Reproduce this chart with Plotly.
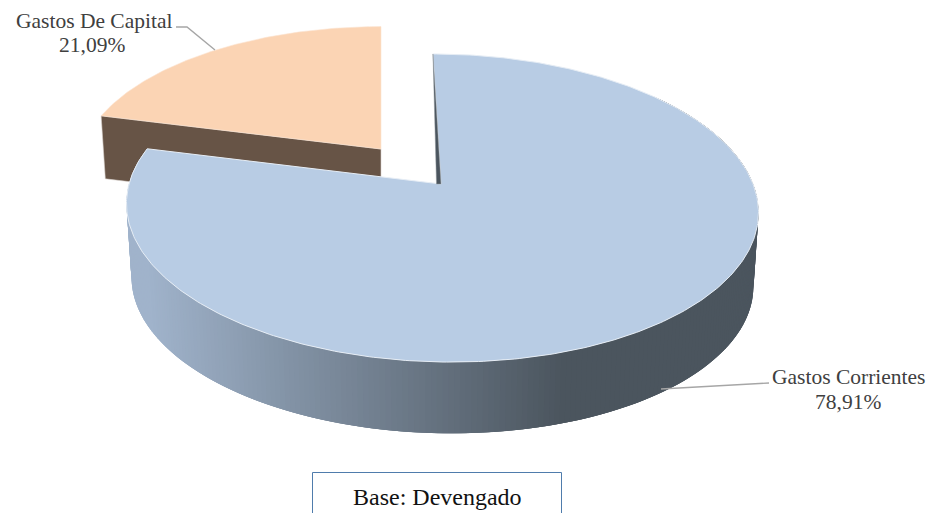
import numpy as np
import plotly.graph_objects as go

categories = ["Gastos Corrientes", "Gastos De Capital"]
shares = [78.91, 21.09]

W, H = 933, 513
SWEEP = shares[0] / sum(shares) * 360.0
K = 0.156


def rim(deg, ax, ay, b, a, shear=0.0):
    t = np.radians(deg)
    w = 1 + K * np.cos(t)
    y = ay - a * np.cos(t) / w
    x = ax + shear * (y - ay) + b * np.sin(t) / w
    return x, y


def poly(xs, ys, color, line=None, lw=0.0, name=""):
    return go.Scatter(
        x=list(xs), y=list(ys), mode="lines", fill="toself", fillcolor=color,
        line=dict(color=line or color, width=lw), hoverinfo="text", text=name,
        showlegend=False,
    )


def lerp_hex(c0, c1, f):
    c = [int(round(p + (q - p) * f)) for p, q in zip(c0, c1)]
    return "rgb(%d,%d,%d)" % tuple(c)


fig = go.Figure()

# ---- detached slice (Gastos De Capital) ----
CAP = dict(ax=381, ay=149, b=299.5, a=141.5)
CAP_LOW = dict(ax=381, ay=211.5, b=295, a=139.4)
ang = np.linspace(SWEEP, 360, 120)
x_l, y_l = rim(SWEEP, **CAP)
x_b, y_b = rim(SWEEP, **CAP_LOW)
fig.add_trace(poly([x_l, CAP["ax"], CAP_LOW["ax"], x_b, x_l],
                   [y_l, CAP["ay"], CAP_LOW["ay"], y_b, y_l],
                   "#675446", "#d8d2cc", 0.6, categories[1]))
xs, ys = rim(ang, **CAP)
fig.add_trace(poly(np.r_[CAP["ax"], xs, CAP["ax"]], np.r_[CAP["ay"], ys, CAP["ay"]],
                   "#fbd4b4", "#fbe4d2", 0.6, categories[1]))

# ---- main slice (Gastos Corrientes) ----
TOP = dict(ax=441, ay=184, b=312, a=150.3, shear=0.0617)
LOW = dict(ax=441, ay=258, b=307, a=148, shear=0.0617)

N_STRIPS = 260
edges = np.linspace(50, SWEEP, N_STRIPS + 1)
LIGHT = (160, 179, 203)
DARK = (75, 85, 94)
for i in range(N_STRIPS):
    # every strip runs on under the next one so that no seam shows
    seg = np.linspace(edges[i], edges[min(i + 3, N_STRIPS)], 4)
    xt, yt = rim(seg, **TOP)
    xb, yb = rim(seg, **LOW)
    xm = (xt[0] + xb[0]) / 2
    f = float(np.clip((xm - 150) / (565 - 150), 0, 1))
    col = lerp_hex(LIGHT, DARK, f)
    fig.add_trace(poly(np.r_[xt, xb[::-1], xt[0]], np.r_[yt, yb[::-1], yt[0]],
                       col, col, 0, categories[0]))

ang = np.linspace(0, SWEEP, 400)
xs, ys = rim(ang, **TOP)
fig.add_trace(poly(np.r_[TOP["ax"], xs, TOP["ax"]], np.r_[TOP["ay"], ys, TOP["ay"]],
                   "#b8cce4", "#e6edf5", 1.0, categories[0]))

x0, y0 = rim(0.0, **TOP)
fig.add_trace(poly([x0, TOP["ax"], TOP["ax"] - 4.5, x0], [y0, TOP["ay"], TOP["ay"], y0],
                   "#4b555e", "#8c949a", 0.5, categories[0]))

# ---- leader lines ----
for lx, ly in ([215, 187, 176], [50, 27, 27]), ([661, 745, 769], [389, 384, 383]):
    fig.add_trace(go.Scatter(x=lx, y=ly, mode="lines", hoverinfo="skip", showlegend=False,
                             line=dict(color="#a6a6a6", width=1.4)))

FONT = "Liberation Serif"


def pct(v):
    return f"{v:.2f}".replace(".", ",") + "%"


labels = [
    (94, 21, categories[1]), (91.5, 45, pct(shares[1])),
    (848, 377, categories[0]), (847.5, 402, pct(shares[0])),
]
for lx, ly, txt in labels:
    fig.add_annotation(x=lx, y=ly, text=txt, showarrow=False,
                       font=dict(family=FONT, size=21.5, color="#404040"),
                       xanchor="center", yanchor="middle")

fig.add_shape(type="rect", x0=312.5, x1=561.5, y0=472.5, y1=530,
              line=dict(color="#4f7cac", width=1), fillcolor="white")
fig.add_annotation(x=437.5, y=497, text="Base: Devengado", showarrow=False,
                   font=dict(family=FONT, size=24, color="#111111"),
                   xanchor="center", yanchor="middle")

fig.update_layout(
    width=W, height=H, margin=dict(l=0, r=0, t=0, b=0),
    paper_bgcolor="white", plot_bgcolor="white", showlegend=False,
    xaxis=dict(range=[0, W], visible=False, fixedrange=True),
    yaxis=dict(range=[H, 0], visible=False, fixedrange=True),
)
fig.write_html("out.html", config=dict(displayModeBar=False),
               post_script="document.body.style.margin='0';document.body.style.overflow='hidden';")
